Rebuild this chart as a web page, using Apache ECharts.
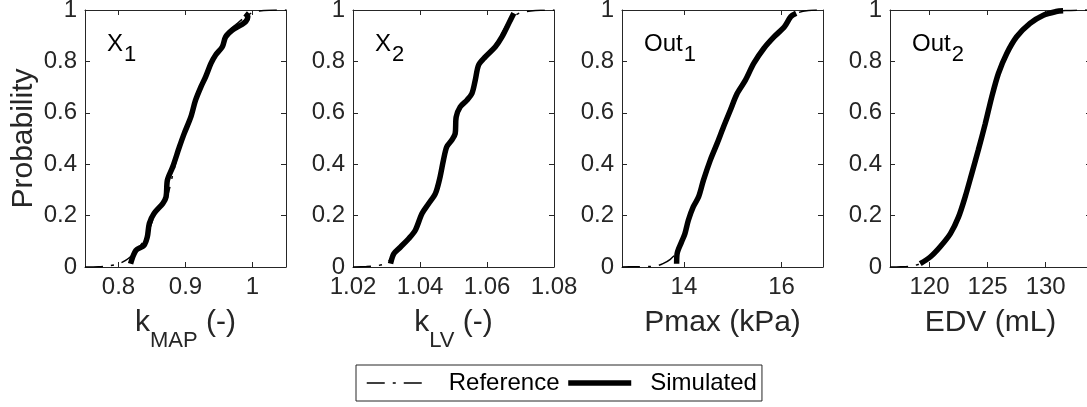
<!DOCTYPE html>
<html><head><meta charset="utf-8">
<script src="https://cdn.jsdelivr.net/npm/echarts@6/dist/echarts.min.js"></script>
<style>html,body{margin:0;padding:0;background:#fff}#c{width:1087px;height:407px}</style>
</head><body><div id="c"></div>
<script>
// ---------- data ----------
const seriesNames = ['Reference', 'Simulated'];
const panelMain = ['X', 'X', 'Out', 'Out'];
const panelSub = ['1', '2', '1', '2'];
const xNameMain = ['k', 'k', 'Pmax (kPa)', 'EDV (mL)'];
const xNameSub = ['MAP', 'LV', '', ''];
const xNameTail = [' (-)', ' (-)', '', ''];
const yName = 'Probability';
const xMin = [0.75, 1.02, 12.73, 116.6];
const xMax = [1.05, 1.08, 16.85, 133.9];
const xTicks1 = [0.8, 0.9, 1];
const xTicks2 = [1.02, 1.04, 1.06, 1.08];
const xTicks3 = [14, 16];
const xTicks4 = [120, 125, 130];
const yTicks = [0, 0.2, 0.4, 0.6, 0.8, 1];

const ref1X = [0.75, 0.77, 0.785, 0.80, 0.81, 0.82, 0.83, 0.84, 0.848, 0.855, 0.866, 0.873, 0.881, 0.891, 0.898, 0.908, 0.915, 0.923, 0.93, 0.938, 0.945, 0.952, 0.96, 0.967, 0.976, 0.985, 0.993, 1.0, 1.01, 1.025, 1.05];
const ref1Y = [0, 0.001, 0.004, 0.012, 0.025, 0.045, 0.075, 0.11, 0.16, 0.205, 0.245, 0.275, 0.36, 0.46, 0.52, 0.585, 0.65, 0.70, 0.74, 0.79, 0.825, 0.855, 0.895, 0.925, 0.945, 0.965, 0.98, 0.99, 0.996, 0.999, 1.0];
const sim1X = [0.818, 0.826, 0.838, 0.843, 0.846, 0.853, 0.866, 0.871, 0.873, 0.881, 0.891, 0.898, 0.908, 0.915, 0.923, 0.93, 0.938, 0.945, 0.955, 0.96, 0.97, 0.983, 0.99, 0.993, 0.989];
const sim1Y = [0.013, 0.065, 0.084, 0.117, 0.169, 0.208, 0.247, 0.273, 0.338, 0.39, 0.468, 0.519, 0.584, 0.649, 0.701, 0.74, 0.792, 0.825, 0.857, 0.896, 0.922, 0.942, 0.955, 0.974, 0.987];

const ref2X = [1.02, 1.024, 1.027, 1.029, 1.0305, 1.032, 1.034, 1.0366, 1.0386, 1.0406, 1.0426, 1.0446, 1.046, 1.047, 1.048, 1.0495, 1.0505, 1.0508, 1.052, 1.054, 1.0555, 1.0565, 1.0575, 1.0595, 1.0622, 1.064, 1.066, 1.068, 1.070, 1.073, 1.076, 1.08];
const ref2Y = [0, 0.002, 0.005, 0.01, 0.02, 0.05, 0.075, 0.11, 0.143, 0.208, 0.247, 0.286, 0.351, 0.416, 0.468, 0.494, 0.519, 0.584, 0.623, 0.649, 0.675, 0.727, 0.786, 0.818, 0.86, 0.9, 0.945, 0.975, 0.99, 0.996, 0.999, 1.0];
const sim2X = [1.0312, 1.0322, 1.0342, 1.0366, 1.0386, 1.0406, 1.0426, 1.0446, 1.046, 1.047, 1.048, 1.0495, 1.0505, 1.0508, 1.052, 1.054, 1.0555, 1.0565, 1.0575, 1.0595, 1.0625, 1.0645, 1.0665, 1.068];
const sim2Y = [0.013, 0.052, 0.078, 0.11, 0.143, 0.208, 0.247, 0.286, 0.351, 0.416, 0.468, 0.494, 0.519, 0.584, 0.623, 0.649, 0.675, 0.727, 0.786, 0.818, 0.857, 0.896, 0.948, 0.987];

const ref3X = [12.73, 13.0, 13.3, 13.45, 13.57, 13.72, 13.85, 13.95, 14.02, 14.09, 14.19, 14.3, 14.4, 14.54, 14.68, 14.81, 14.95, 15.09, 15.26, 15.43, 15.64, 15.85, 16.06, 16.2, 16.35, 16.55, 16.85];
const ref3Y = [0, 0.001, 0.002, 0.005, 0.013, 0.03, 0.055, 0.09, 0.13, 0.182, 0.234, 0.273, 0.338, 0.416, 0.481, 0.545, 0.61, 0.675, 0.727, 0.792, 0.851, 0.896, 0.935, 0.97, 0.99, 0.998, 1.0];
const sim3X = [13.85, 13.86, 13.95, 14.02, 14.09, 14.19, 14.3, 14.4, 14.54, 14.68, 14.81, 14.95, 15.09, 15.26, 15.43, 15.64, 15.85, 16.06, 16.19, 16.3];
const sim3Y = [0.013, 0.052, 0.097, 0.13, 0.182, 0.234, 0.273, 0.338, 0.416, 0.481, 0.545, 0.61, 0.675, 0.727, 0.792, 0.851, 0.896, 0.935, 0.974, 0.987];

const ref4X = [116.6, 117.5, 118.3, 118.8, 119.2, 119.6, 120.06, 120.9, 121.8, 122.5, 123.07, 123.64, 124.2, 124.8, 125.36, 125.93, 126.65, 127.5, 128.65, 129.8, 130.9, 131.8, 132.8, 133.9];
const ref4Y = [0, 0.001, 0.003, 0.007, 0.013, 0.025, 0.039, 0.078, 0.13, 0.195, 0.273, 0.364, 0.455, 0.558, 0.662, 0.753, 0.831, 0.896, 0.948, 0.98, 0.994, 0.998, 0.9995, 1.0];
const sim4X = [119.2, 120.06, 120.9, 121.8, 122.5, 123.07, 123.64, 124.2, 124.8, 125.36, 125.93, 126.65, 127.5, 128.65, 129.8, 130.9, 131.5];
const sim4Y = [0.013, 0.039, 0.078, 0.13, 0.195, 0.273, 0.364, 0.455, 0.558, 0.662, 0.753, 0.831, 0.896, 0.948, 0.98, 0.994, 0.997];

// ---------- build ----------
const xTicks = [xTicks1, xTicks2, xTicks3, xTicks4];
const refX = [ref1X, ref2X, ref3X, ref4X], refY = [ref1Y, ref2Y, ref3Y, ref4Y];
const simX = [sim1X, sim2X, sim3X, sim4X], simY = [sim1Y, sim2Y, sim3Y, sim4Y];
const zip = (a, b) => a.map((v, i) => [v, b[i]]);

const FONT = 'Liberation Sans';
const AX = '#262626';
const gridLefts = [85, 353, 622, 890];
const GW = 201, GT = 10, GH = 257;
const REF_STYLE = { color: '#000', width: 1.5, type: [18, 8, 3, 8] };
const SIM_STYLE = { color: '#000', width: 5.5 };

const grids = [], xAxes = [], yAxes = [], series = [], graphics = [];
const fmt = v => String(+Number(v).toFixed(4));

for (let i = 0; i < 4; i++) {
  grids.push({ left: gridLefts[i], top: GT, width: GW, height: GH, outerBoundsMode: 'none', containLabel: false });
  const nm = xNameSub[i]
    ? `{m|${xNameMain[i]}}{s|${xNameSub[i]}}{m|${xNameTail[i]}}`
    : `{m|${xNameMain[i]}}`;
  const lineCommon = { show: true, onZero: false, lineStyle: { color: AX, width: 1 } };
  xAxes.push({
    type: 'value', gridIndex: i, min: xMin[i], max: xMax[i], position: 'bottom',
    axisLine: lineCommon,
    axisTick: { show: true, inside: true, length: 5, customValues: xTicks[i], lineStyle: { color: AX } },
    axisLabel: { show: true, customValues: xTicks[i], color: AX, fontSize: 24, fontFamily: FONT, margin: 8, formatter: fmt, showMinLabel: true, showMaxLabel: true },
    splitLine: { show: false },
    name: nm, nameLocation: 'middle', nameGap: 41, nameMoveOverlap: false,
    nameTextStyle: {
      rich: {
        m: { fontSize: 30, fontFamily: FONT, color: AX, lineHeight: 36, verticalAlign: 'top' },
        s: { fontSize: 22, fontFamily: FONT, color: AX, lineHeight: 24, verticalAlign: 'top', padding: [22, 0, 0, 0] }
      }
    }
  });
  xAxes.push({
    type: 'value', gridIndex: i, min: xMin[i], max: xMax[i], position: 'top',
    axisLine: lineCommon,
    axisTick: { show: true, inside: true, length: 5, customValues: xTicks[i], lineStyle: { color: AX } },
    axisLabel: { show: false }, splitLine: { show: false }
  });
  yAxes.push({
    type: 'value', gridIndex: i, min: 0, max: 1, interval: 0.2, position: 'left',
    axisLine: lineCommon,
    axisTick: { show: true, inside: true, length: 5, lineStyle: { color: AX } },
    axisLabel: { show: true, color: AX, fontSize: 24, fontFamily: FONT, margin: 8, formatter: fmt },
    splitLine: { show: false },
    name: i === 0 ? yName : '', nameLocation: 'middle', nameGap: 46, nameMoveOverlap: false,
    nameTextStyle: { fontSize: 30, fontFamily: FONT, color: AX }
  });
  yAxes.push({
    type: 'value', gridIndex: i, min: 0, max: 1, interval: 0.2, position: 'right',
    axisLine: lineCommon,
    axisTick: { show: true, inside: true, length: 5, lineStyle: { color: AX } },
    axisLabel: { show: false }, splitLine: { show: false }
  });
  series.push({
    type: 'line', name: seriesNames[0], xAxisIndex: 2 * i, yAxisIndex: 2 * i,
    data: zip(refX[i], refY[i]), symbol: 'none', showSymbol: false, smooth: 0.3,
    lineStyle: REF_STYLE, itemStyle: { color: '#000' },
    z: 3, silent: true, animation: false, clip: true
  });
  series.push({
    type: 'line', name: seriesNames[1], xAxisIndex: 2 * i, yAxisIndex: 2 * i,
    data: zip(simX[i], simY[i]), symbol: 'none', showSymbol: false, smooth: 0.3,
    lineStyle: SIM_STYLE, itemStyle: { color: '#000' },
    z: 2, silent: true, animation: false, clip: true
  });
  graphics.push({
    type: 'text', left: gridLefts[i] + 22, top: 32, z: 10,
    style: {
      text: `{m|${panelMain[i]}}{s|${panelSub[i]}}`,
      rich: {
        m: { fontSize: 24, fontFamily: FONT, fill: '#000', lineHeight: 28, verticalAlign: 'top' },
        s: { fontSize: 22, fontFamily: FONT, fill: '#000', lineHeight: 26, verticalAlign: 'top', padding: [12, 0, 0, 1] }
      }
    }
  });
}

const chart = echarts.init(document.getElementById('c'), null, { renderer: 'canvas' });
chart.setOption({
  animation: false,
  backgroundColor: '#fff',
  textStyle: { fontFamily: FONT },
  grid: grids, xAxis: xAxes, yAxis: yAxes, series: series,
  graphic: graphics,
  legend: {
    data: [
      { name: seriesNames[0], lineStyle: { width: 1.5, type: [18, 8, 3, 8], color: '#000' } },
      { name: seriesNames[1], lineStyle: { width: 5.5, color: '#000' } }
    ],
    left: 356, top: 365, orient: 'horizontal',
    itemWidth: 63, itemHeight: 14, itemGap: 6,
    padding: [6, 5, 6, 10], borderColor: AX, borderWidth: 1, backgroundColor: '#fff',
    selectedMode: false,
    itemStyle: { opacity: 0, borderWidth: 0 },
    textStyle: { fontSize: 24, color: '#000', fontFamily: FONT, padding: [0, 0, 0, 14] }
  }
});
</script>
</body></html>
